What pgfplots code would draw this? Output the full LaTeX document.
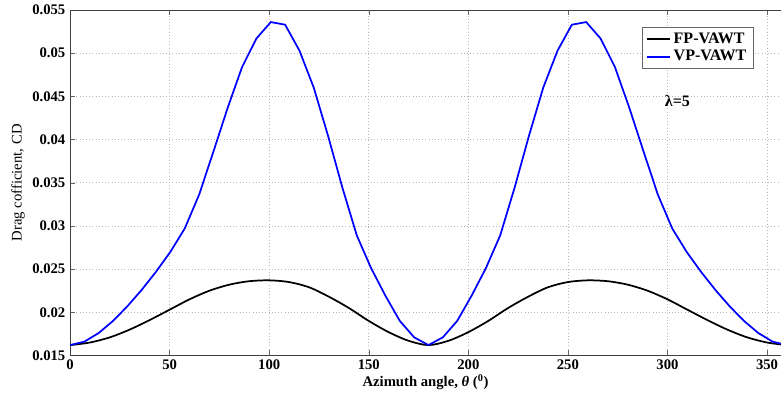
\documentclass[border=0pt]{standalone}
\usepackage{pgfplots}
\pgfplotsset{compat=1.18}
\usepackage{fontspec}
\setmainfont{Liberation Serif}

% fixed-pitch rotor, drag coefficient vs azimuth
\pgfplotstableread{
theta cd
0 0.0162
10 0.0165
20 0.0171
30 0.0180
40 0.0191
50 0.0203
60 0.0215
70 0.0225
80 0.0232
90 0.0236
100 0.0237
110 0.0235
120 0.0229
130 0.0218
140 0.0205
150 0.0190
160 0.0177
170 0.0167
180 0.0162
190 0.0167
200 0.0177
210 0.0190
220 0.0205
230 0.0218
240 0.0229
250 0.0235
260 0.0237
270 0.0236
280 0.0232
290 0.0225
300 0.0215
310 0.0203
320 0.0191
330 0.0180
340 0.0171
350 0.0165
360 0.0162
}\fptable

% variable-pitch rotor
\pgfplotstableread{
theta cd
0 0.0162
7.2 0.0166
14.4 0.0176
21.6 0.0190
28.8 0.0207
36 0.0226
43.2 0.0247
50.4 0.0270
57.6 0.0297
64.8 0.0336
72 0.0386
79.2 0.0437
86.4 0.0484
93.6 0.0517
100.8 0.0536
108 0.0533
115.2 0.0503
122.4 0.0460
129.6 0.0404
136.8 0.0344
144 0.0289
151.2 0.0251
158.4 0.0219
165.6 0.0190
172.8 0.0171
180 0.0162
187.2 0.0171
194.4 0.0190
201.6 0.0219
208.8 0.0251
216 0.0289
223.2 0.0344
230.4 0.0404
237.6 0.0460
244.8 0.0503
252 0.0533
259.2 0.0536
266.4 0.0517
273.6 0.0484
280.8 0.0437
288 0.0386
295.2 0.0336
302.4 0.0297
309.6 0.0270
316.8 0.0247
324 0.0226
331.2 0.0207
338.4 0.0190
345.6 0.0176
352.8 0.0166
360 0.0162
}\vptable

\begin{document}
\begin{tikzpicture}
\begin{axis}[
  name=ax,
  scale only axis,
  width=533pt, height=259pt,
  xmin=0, xmax=357, ymin=0.015, ymax=0.055,
  axis x line*=box, axis y line*=left,
  xticklabel pos=bottom,
  axis line style={black!75},
  tick align=inside,
  major tick length=4pt,
  tick style={black!60},
  xtick={0,50,100,150,200,250,300,350},
  ytick={0.015,0.02,0.025,0.03,0.035,0.04,0.045,0.05,0.055},
  yticklabels={0.015,0.02,0.025,0.03,0.035,0.04,0.045,0.05,0.055},
  scaled y ticks=false,
  /pgf/number format/assume math mode=true,
  tick label style={font=\fontsize{11}{13}\selectfont\bfseries},
  grid=major,
  major grid style={dotted, gray!55},
  every axis x label/.style={at={(axis description cs:0.5,-0.078)}, anchor=center},
  every axis y label/.style={at={(axis description cs:-0.073,0.5)}, rotate=90, anchor=center},
  xlabel={\fontsize{11}{13}\selectfont\bfseries Azimuth angle, \textit{θ} (\textsuperscript{0})},
  ylabel={\fontsize{11}{13}\selectfont Drag cofficient, CD},
  legend style={at={(0.961,0.951)}, anchor=north east,
    font=\large\bfseries, draw=black!60},
  legend cell align=left,
]
\addlegendimage{black, line width=1.3pt}
\addlegendentry{FP-VAWT}
\addlegendimage{blue, line width=1.3pt}
\addlegendentry{VP-VAWT}
\addplot[black, line width=1.3pt, smooth, forget plot] table[x=theta, y=cd] {\fptable};
\addplot[blue, line width=1.3pt, forget plot] table[x=theta, y=cd] {\vptable};
\node[font=\large\bfseries] at (axis cs:305,0.0445) {λ=5};
\end{axis}
\pgfresetboundingbox
\path[use as bounding box] ([xshift=-52.5pt, yshift=-34.5pt]ax.south west) rectangle ([yshift=7.5pt]ax.north east);
\end{tikzpicture}
\end{document}
